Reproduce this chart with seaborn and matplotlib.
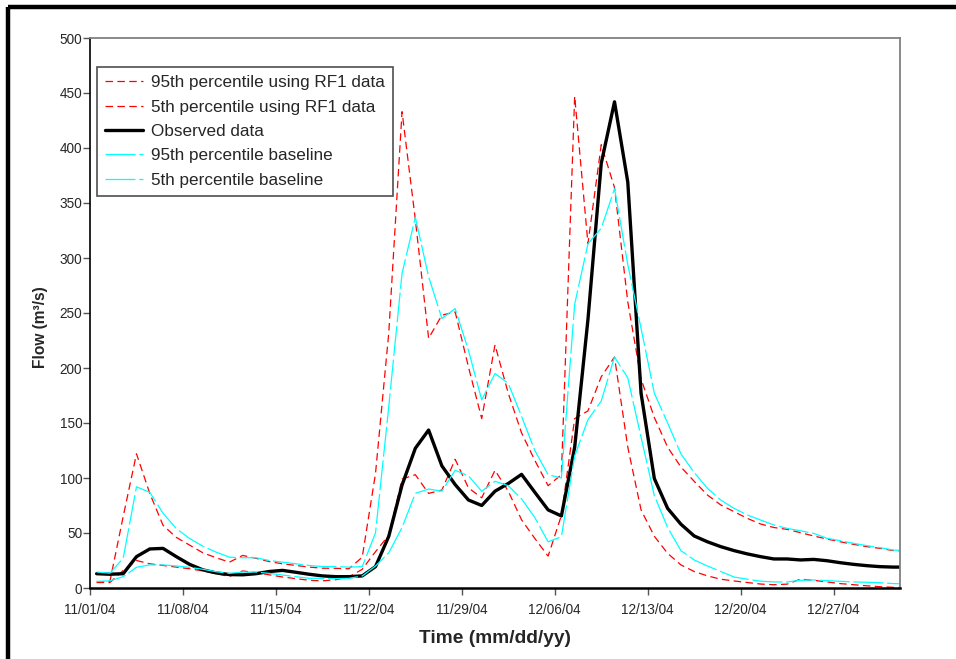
import numpy as np
import pandas as pd
import matplotlib
matplotlib.use("Agg")
import matplotlib.pyplot as plt
import matplotlib.dates as mdates
from matplotlib.lines import Line2D
import seaborn as sns

# ---------------- data (daily flows, m3/s) ----------------
start_date = "2004-11-01"
n_days = 62

rf1_p95 = [5.5, 6, 65, 122, 86, 57, 46, 39, 32, 27.5, 23.5, 29.6, 27, 24, 22, 20.5,
           19, 18, 17.9, 17.5, 28, 104, 232, 433, 335, 227, 248, 251, 201, 154, 221,
           177, 141, 116, 93, 103, 447, 313, 403, 364, 260, 190, 155, 128, 110, 97,
           84.5, 75.5, 69.4, 63.3, 58.2, 55, 53.3, 50.3, 47.3, 44.5, 42, 39.7, 37.6,
           36, 34, 33.5]
rf1_p5 = [5, 5, 16, 25, 22, 20.5, 19, 17.5, 15.5, 13, 10.5, 15.5, 14, 12, 10, 8.5,
          7, 6.5, 7.5, 10, 17, 33, 48, 99, 103, 86, 89, 117, 91, 82, 107,
          88, 62, 45, 29, 66, 154, 161, 192, 210, 128, 71, 47, 31.5, 21, 15,
          11, 8, 6.4, 5, 3.6, 3, 3.5, 8, 7, 5.5, 4, 3, 2, 1.2, 0.6, 0.5]
observed = [13, 12.5, 13, 28.5, 35.5, 36, 28.5, 21.5, 16.5, 13.7, 12.2, 12, 13, 15, 16, 14.3,
            12.5, 11, 10.3, 10.3, 11, 19.4, 47, 93.6, 127, 143.6, 111, 94, 80, 75, 88,
            95, 103.3, 87, 71, 65.5, 128, 244, 386, 442, 369, 177, 99.5, 72.4, 58, 47.3,
            42, 37.6, 34, 31, 28.5, 26.4, 26.4, 25.5, 26, 24.8, 23, 21.5, 20.3, 19.4, 19, 19]
base_p95 = [14.5, 13.5, 27, 92, 87, 68, 54, 45, 38, 32.6, 28, 27.5, 27.5, 25, 23.5, 22,
            20.5, 19.5, 19.4, 19, 19.4, 50, 165, 286, 337, 283, 245, 254, 216, 171, 195,
            186, 156, 125, 103, 100, 258, 313, 327, 363, 294, 236, 177, 150, 122, 105,
            90.6, 80, 72.4, 66.4, 61.8, 57.3, 54.2, 52, 49.7, 45.2, 43, 40.6, 38.5, 36.7, 34.5, 34]
base_p5 = [6, 6.5, 10.3, 18.8, 21, 21, 20, 18.8, 17, 14.8, 13.3, 14.5, 14.5, 13.3, 11.8, 10.3,
           8.8, 8.8, 8.5, 8.8, 10.9, 20, 32, 55, 86, 90, 88, 107, 102, 88, 97,
           93, 81, 64, 42, 46.7, 120, 153, 170, 210, 191, 137, 84, 55, 34, 25.5,
           20, 15, 10, 8, 6.2, 5.5, 5.5, 7, 7.3, 6.7, 6.1, 5.5, 5.2, 4.8, 4, 3.8]

labels = ["95th percentile using RF1 data", "5th percentile using RF1 data",
          "Observed data", "95th percentile baseline", "5th percentile baseline"]
series = [rf1_p95, rf1_p5, observed, base_p95, base_p5]

y_ticks = list(range(0, 501, 50))
x_label = "Time (mm/dd/yy)"
y_label = "Flow (m³/s)"

# ---------------- figure ----------------
sns.set_style("ticks")
plt.rcParams["font.family"] = ["Liberation Sans", "DejaVu Sans"]

dates = pd.date_range(start_date, periods=n_days, freq="D") + pd.Timedelta(hours=12)
df = pd.DataFrame({"date": np.tile(dates, len(series)),
                   "flow": np.concatenate([np.asarray(s, float) for s in series]),
                   "series": np.repeat(labels, n_days)})

fig = plt.figure(figsize=(9.56, 6.59), dpi=100)
ax = fig.add_axes([90 / 956, 71 / 659, 810 / 956, 550 / 659])

styles = {
    labels[0]: dict(color="#FF0000", lw=0.9, dashes=(6, 3.5)),
    labels[1]: dict(color="#FF0000", lw=0.9, dashes=(6, 3.5)),
    labels[2]: dict(color="#000000", lw=2.4, dashes=None),
    labels[3]: dict(color="#00FFFF", lw=0.9, dashes=(24, 3)),
    labels[4]: dict(color="#00FFFF", lw=0.9, dashes=(24, 3)),
}
for lab in labels:
    st = styles[lab]
    sub = df[df["series"] == lab]
    sns.lineplot(data=sub, x="date", y="flow", ax=ax, color=st["color"],
                 linewidth=st["lw"], label=lab, legend=False)
    ln = ax.get_lines()[-1]
    if st["dashes"] is not None:
        ln.set_dashes(st["dashes"])

ax.set_xlim(pd.Timestamp("2004-11-01"), pd.Timestamp("2005-01-01"))
ax.set_ylim(0, 500)
ax.set_yticks(y_ticks)
ticks = pd.date_range("2004-11-01", "2004-12-31", freq="7D")
ax.set_xticks(ticks)
ax.xaxis.set_major_formatter(mdates.DateFormatter("%m/%d/%y"))

ax.tick_params(axis="both", direction="out", length=5, width=1, color="#555555",
               labelsize=9.8)
ax.tick_params(axis="y", pad=0.5)
ax.tick_params(axis="x", pad=6)

ax.set_xlabel(x_label, fontsize=13.8, fontweight="bold", labelpad=9)
ax.set_ylabel(y_label, fontsize=11.2, fontweight="bold")
ax.yaxis.set_label_coords(-0.052, 0.475)

for side in ["top", "right"]:
    ax.spines[side].set_visible(True)
    ax.spines[side].set_color("#808080")
    ax.spines[side].set_linewidth(1.3)
ax.spines["left"].set_color("black")
ax.spines["left"].set_linewidth(1.2)
ax.spines["bottom"].set_color("black")
ax.spines["bottom"].set_linewidth(1.8)

leg = ax.legend(loc="upper left", bbox_to_anchor=(7 / 810, 521 / 550), borderaxespad=0,
                fontsize=12.3, frameon=True, fancybox=False, handlelength=2.2,
                handletextpad=0.5, labelspacing=0.55, borderpad=0.48)
leg.get_frame().set_edgecolor("#222222")
leg.get_frame().set_linewidth(1.2)

# outer frame (top and left heavy border of the original graphic)
fig.add_artist(Line2D([8 / 956, 1.0], [1 - 7 / 659, 1 - 7 / 659], transform=fig.transFigure,
                      color="black", lw=3.2, solid_capstyle="butt"))
fig.add_artist(Line2D([8 / 956, 8 / 956], [0, 1 - 7 / 659], transform=fig.transFigure,
                      color="black", lw=3.2, solid_capstyle="butt"))

fig.savefig("out.png", dpi=100, facecolor="white")
